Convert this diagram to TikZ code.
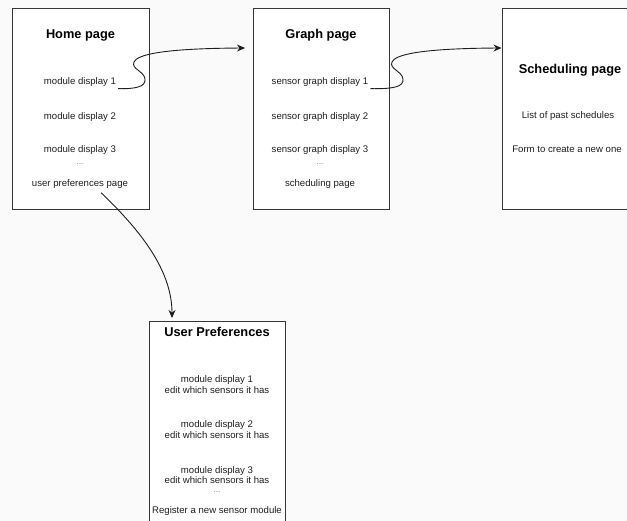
\documentclass[tikz,border=0pt]{standalone}
\usepackage{fontspec}
\setmainfont{Liberation Sans}
\usetikzlibrary{arrows.meta}
\definecolor{ink}{HTML}{1E1E1E}
\definecolor{bg}{HTML}{FAFAFA}
\tikzset{
  pagebox/.style={draw=ink!90, line width=0.9pt, fill=white, anchor=north west, inner sep=0pt, outer sep=0pt, minimum width=136pt, minimum height=201pt},
  title/.style={font=\bfseries\fontsize{12.8}{14}\selectfont, text=black, inner sep=0pt},
  body/.style={font=\fontsize{9.6}{10.2}\selectfont, text=ink, inner sep=0pt, align=center},
  dots/.style={font=\fontsize{8.5}{9}\selectfont, text=ink!55, inner sep=0pt, text height=1.5pt, text depth=0pt, anchor=base},
  link/.style={draw=ink, line width=0.9pt, -{Stealth[length=8pt,width=7pt]}}
}
\begin{document}
\begin{tikzpicture}[x=1pt,y=-1pt]
\path[use as bounding box, fill=bg] (0,0) rectangle (627,521);
\clip (0,0) rectangle (627,521);

% boxes
\node[pagebox, minimum width=137pt] (home) at (12,8) {};
\node[pagebox] (graph) at (253,8) {};
\node[pagebox] (sched) at (502,8) {};
\node[pagebox] (upbox) at (149,321) {};

% Home page
\node[title] (homet) at (80.5,35) {Home page};
\node[body] (hm1) at (80,82) {module display 1};
\node[body] (hm2) at (80,117) {module display 2};
\node[body] (hm3) at (80,150) {module display 3};
\node[dots] (hdots) at (80,164.5) {...};
\node[body] (hupp) at (80,184) {user preferences page};

% Graph page
\node[title] (grapht) at (321,35) {Graph page};
\node[body] (gs1) at (320,82) {sensor graph display 1};
\node[body] (gs2) at (320,117) {sensor graph display 2};
\node[body] (gs3) at (320,150) {sensor graph display 3};
\node[dots] (gdots) at (320,164.5) {...};
\node[body] (gsp) at (320,184) {scheduling page};

% Scheduling page
\node[title] (schedt) at (570,70) {Scheduling page};
\node[body] (slist) at (568,116) {List of past schedules};
\node[body] (sform) at (567,149) {Form to create a new one};

% User preferences
\node[title] (upt) at (217,332) {User Preferences};
\node[body] (up1) at (217,384.5) {module display 1\\edit which sensors it has};
\node[body] (up2) at (217,429.5) {module display 2\\edit which sensors it has};
\node[body] (up3) at (217,475) {module display 3\\edit which sensors it has};
\node[dots] (updots) at (217,493) {...};
\node[body] (upreg) at (217,511) {Register a new sensor module};

% arrow end points
\coordinate (t1) at (245,48);
\coordinate (t2) at (501.5,48);

% connectors
\draw[link] ([xshift=2pt,yshift=-2pt]hm1.south east)
  .. controls (135,89) and (146,87) .. (145,79)
  .. controls (144,71) and (131,69) .. (134,62)
  .. controls (137,55) and (160,48.5) .. (t1);
\draw[link] ([xshift=2pt,yshift=-2pt]gs1.south east)
  .. controls (393,89) and (404,87) .. (403,79)
  .. controls (402,71) and (389,69) .. (392,62)
  .. controls (395,55) and (418,48.5) .. (t2);
\draw[link] ([xshift=21pt,yshift=-4pt]hupp.south)
  .. controls (140,230) and (172,270) .. ([xshift=23pt,yshift=3pt]upbox.north west);
\end{tikzpicture}
\end{document}
